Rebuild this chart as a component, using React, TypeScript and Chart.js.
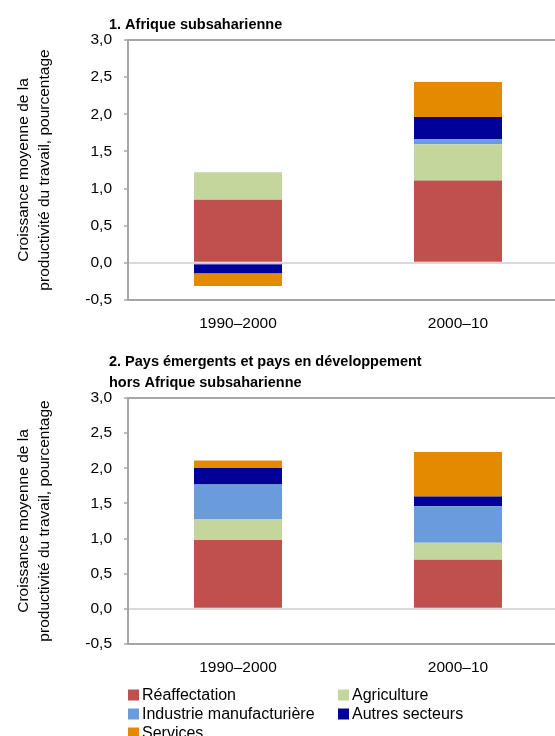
import React, { useEffect, useRef } from 'react';
import { Chart, registerables } from 'chart.js';

Chart.register(...registerables);

// ---------- data ----------
const categories = ['1990–2000', '2000–10'];
const seriesLabels = ['Réaffectation', 'Agriculture', 'Industrie manufacturière', 'Autres secteurs', 'Services'];
const seriesColors = ['#C0504D', '#C3D69B', '#6A9CDB', '#000099', '#E38A00'];

// Panel 1: Afrique subsaharienne
const ssaReaffectation = [0.85, 1.11];
const ssaAgriculture = [0.37, 0.485];
const ssaIndustrie = [-0.02, 0.07];
const ssaAutres = [-0.12, 0.30];
const ssaServices = [-0.17, 0.47];

// Panel 2: Pays émergents et pays en développement hors Afrique subsaharienne
const emdReaffectation = [0.98, 0.70];
const emdAgriculture = [0.30, 0.24];
const emdIndustrie = [0.49, 0.52];
const emdAutres = [0.235, 0.14];
const emdServices = [0.105, 0.63];

const yMin = -0.5;
const yMax = 3.0;
const yStep = 0.5;

const panel1Title = ['1. Afrique subsaharienne'];
const panel2Title = ['2. Pays émergents et pays en développement', 'hors Afrique subsaharienne'];
const yAxisTitle = ['Croissance moyenne de la', 'productivité du travail, pourcentage'];

// ---------- styling ----------
const FONT = '"Liberation Sans", Arial, sans-serif';
const AXIS_GREY = '#A6A6A6';
const ZERO_GREY = '#D9D9D9';

const panelTitlePlugin = {
  id: 'panelTitle',
  afterDraw(chart: any, _args: any, opts: any) {
    if (!opts || !opts.lines) return;
    const { ctx, chartArea } = chart;
    ctx.save();
    ctx.font = `bold ${opts.size}px ${FONT}`;
    ctx.fillStyle = '#000';
    ctx.textBaseline = 'alphabetic';
    ctx.textAlign = 'left';
    const n = opts.lines.length;
    opts.lines.forEach((line: string, i: number) => {
      const y = chartArea.top - opts.gap - opts.lineHeight * (n - 1 - i);
      ctx.fillText(line, chartArea.left + opts.dx, y);
    });
    ctx.restore();
  },
};

const gridLegendPlugin = {
  id: 'gridLegend',
  afterDraw(chart: any, _args: any, opts: any) {
    if (!opts || !opts.display) return;
    const { ctx, chartArea } = chart;
    ctx.save();
    ctx.font = `${opts.size}px ${FONT}`;
    ctx.textBaseline = 'middle';
    ctx.textAlign = 'left';
    chart.data.datasets.forEach((ds: any, i: number) => {
      const col = i % 2;
      const row = Math.floor(i / 2);
      const x = chartArea.left + col * opts.colWidth;
      const y = chartArea.bottom + opts.offsetY + row * opts.rowHeight;
      ctx.fillStyle = ds.backgroundColor;
      ctx.fillRect(x, y - opts.box / 2, opts.box, opts.box);
      ctx.fillStyle = '#000';
      ctx.fillText(ds.label, x + opts.box + 3, y + 1);
    });
    ctx.restore();
  },
};

function makeConfig(series: number[][], titleLines: string[], opts: any): any {
  return {
    type: 'bar',
    data: {
      labels: categories,
      datasets: series.map((vals, i) => ({
        label: seriesLabels[i],
        data: vals,
        backgroundColor: seriesColors[i],
        borderWidth: 0,
        categoryPercentage: 1,
        barPercentage: 0.4,
      })),
    },
    plugins: [panelTitlePlugin, gridLegendPlugin],
    options: {
      responsive: false,
      maintainAspectRatio: false,
      animation: false,
      devicePixelRatio: 1,
      layout: { padding: { top: opts.padTop, left: 0, right: 2, bottom: 0 } },
      plugins: {
        legend: { display: false },
        title: { display: false },
        tooltip: { enabled: false },
        panelTitle: { lines: titleLines, size: 14.5, lineHeight: 21, gap: 11, dx: -19 },
        gridLegend: {
          display: opts.legend,
          size: 16,
          box: 11,
          colWidth: 210,
          rowHeight: 19,
          offsetY: 51,
        },
      },
      scales: {
        x: {
          stacked: true,
          grid: { display: false, drawTicks: false },
          border: { display: true, color: AXIS_GREY, width: 2 },
          ticks: { color: '#000', font: { family: FONT, size: 15.5 }, padding: 14 },
          afterFit: (scale: any) => {
            scale.height = opts.xHeight;
          },
        },
        y: {
          stacked: true,
          min: yMin,
          max: yMax,
          ticks: {
            stepSize: yStep,
            color: '#000',
            font: { family: FONT, size: 15.5 },
            padding: 12,
            callback: (v: any) => Number(v).toFixed(1).replace('.', ','),
          },
          grid: {
            drawOnChartArea: true,
            drawTicks: true,
            tickLength: 4,
            tickColor: AXIS_GREY,
            tickWidth: 1.5,
            color: (ctx: any) => {
              const v = ctx.tick ? ctx.tick.value : null;
              if (v === 0) return ZERO_GREY;
              if (v === yMax) return AXIS_GREY;
              return 'rgba(0,0,0,0)';
            },
            lineWidth: 2,
          },
          border: { display: true, color: AXIS_GREY, width: 2 },
          title: {
            display: true,
            text: yAxisTitle,
            color: '#000',
            font: { family: FONT, size: 15.5, lineHeight: 1.36 },
            padding: { top: 13, bottom: 0 },
          },
          afterFit: (scale: any) => {
            scale.width = 128;
          },
        },
      },
    },
  };
}

function Panel(props: { series: number[][]; title: string[]; top: number; height: number; padTop: number; xHeight: number; legend: boolean }) {
  const ref = useRef<HTMLCanvasElement | null>(null);
  useEffect(() => {
    if (!ref.current) return;
    const chart = new Chart(
      ref.current,
      makeConfig(props.series, props.title, { padTop: props.padTop, xHeight: props.xHeight, legend: props.legend })
    );
    return () => chart.destroy();
  }, []);
  return (
    <canvas
      ref={ref}
      width={570}
      height={props.height}
      style={{ position: 'absolute', left: 0, top: props.top, width: 570, height: props.height, display: 'block' }}
    />
  );
}

export default function App() {
  return (
    <div style={{ position: 'absolute', left: 0, top: 0, width: 555, height: 736, overflow: 'hidden', background: '#fff' }}>
      <Panel
        series={[ssaReaffectation, ssaAgriculture, ssaIndustrie, ssaAutres, ssaServices]}
        title={panel1Title}
        top={0}
        height={340}
        padTop={40}
        xHeight={40}
        legend={false}
      />
      <Panel
        series={[emdReaffectation, emdAgriculture, emdIndustrie, emdAutres, emdServices]}
        title={panel2Title}
        top={340}
        height={396}
        padTop={58}
        xHeight={92}
        legend={true}
      />
    </div>
  );
}
